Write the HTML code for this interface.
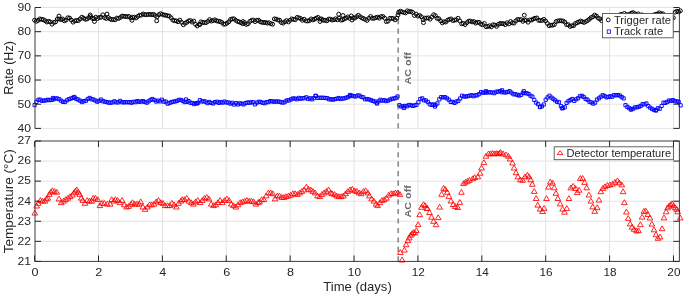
<!DOCTYPE html>
<html><head><meta charset="utf-8"><style>html,body{margin:0;padding:0;background:#fff;width:685px;height:296px;overflow:hidden}svg{display:block;will-change:transform}</style></head>
<body><svg width="685" height="296" viewBox="0 0 685 296"><path d="M98.49 7.50V128.40M98.49 141.00V261.42M162.38 7.50V128.40M162.38 141.00V261.42M226.26 7.50V128.40M226.26 141.00V261.42M290.15 7.50V128.40M290.15 141.00V261.42M354.04 7.50V128.40M354.04 141.00V261.42M417.93 7.50V128.40M417.93 141.00V261.42M481.82 7.50V128.40M481.82 141.00V261.42M545.70 7.50V128.40M545.70 141.00V261.42M609.59 7.50V128.40M609.59 141.00V261.42M673.48 7.50V128.40M673.48 141.00V261.42M35.00 128.40H679.40M35.00 104.22H679.40M35.00 80.04H679.40M35.00 55.86H679.40M35.00 31.68H679.40M35.00 7.50H679.40M35.00 241.35H679.40M35.00 221.28H679.40M35.00 201.21H679.40M35.00 181.14H679.40M35.00 161.07H679.40" stroke="#e3e3e3" stroke-width="1" fill="none"/><path d="M398.2 128.40V7.50" stroke="#8f8f8f" stroke-width="1.7" stroke-dasharray="5.1 4.37" fill="none"/><path d="M398.2 261.42V141.00" stroke="#8f8f8f" stroke-width="1.7" stroke-dasharray="5.1 4.37" fill="none"/><path d="M32.65 20.20a1.95 1.95 0 1 0 3.9 0a1.95 1.95 0 1 0 -3.9 0M34.40 21.31a1.95 1.95 0 1 0 3.9 0a1.95 1.95 0 1 0 -3.9 0M36.15 20.35a1.95 1.95 0 1 0 3.9 0a1.95 1.95 0 1 0 -3.9 0M37.90 18.91a1.95 1.95 0 1 0 3.9 0a1.95 1.95 0 1 0 -3.9 0M39.65 19.42a1.95 1.95 0 1 0 3.9 0a1.95 1.95 0 1 0 -3.9 0M41.40 19.63a1.95 1.95 0 1 0 3.9 0a1.95 1.95 0 1 0 -3.9 0M43.15 20.74a1.95 1.95 0 1 0 3.9 0a1.95 1.95 0 1 0 -3.9 0M44.90 21.99a1.95 1.95 0 1 0 3.9 0a1.95 1.95 0 1 0 -3.9 0M46.65 21.37a1.95 1.95 0 1 0 3.9 0a1.95 1.95 0 1 0 -3.9 0M48.40 21.88a1.95 1.95 0 1 0 3.9 0a1.95 1.95 0 1 0 -3.9 0M50.15 24.20a1.95 1.95 0 1 0 3.9 0a1.95 1.95 0 1 0 -3.9 0M51.90 22.38a1.95 1.95 0 1 0 3.9 0a1.95 1.95 0 1 0 -3.9 0M53.65 21.90a1.95 1.95 0 1 0 3.9 0a1.95 1.95 0 1 0 -3.9 0M55.40 19.04a1.95 1.95 0 1 0 3.9 0a1.95 1.95 0 1 0 -3.9 0M57.05 16.00a1.95 1.95 0 1 0 3.9 0a1.95 1.95 0 1 0 -3.9 0M57.15 19.00a1.95 1.95 0 1 0 3.9 0a1.95 1.95 0 1 0 -3.9 0M58.90 19.53a1.95 1.95 0 1 0 3.9 0a1.95 1.95 0 1 0 -3.9 0M60.65 19.00a1.95 1.95 0 1 0 3.9 0a1.95 1.95 0 1 0 -3.9 0M62.40 20.79a1.95 1.95 0 1 0 3.9 0a1.95 1.95 0 1 0 -3.9 0M64.15 20.08a1.95 1.95 0 1 0 3.9 0a1.95 1.95 0 1 0 -3.9 0M65.90 17.79a1.95 1.95 0 1 0 3.9 0a1.95 1.95 0 1 0 -3.9 0M67.65 18.08a1.95 1.95 0 1 0 3.9 0a1.95 1.95 0 1 0 -3.9 0M69.40 20.09a1.95 1.95 0 1 0 3.9 0a1.95 1.95 0 1 0 -3.9 0M71.15 22.17a1.95 1.95 0 1 0 3.9 0a1.95 1.95 0 1 0 -3.9 0M72.90 20.90a1.95 1.95 0 1 0 3.9 0a1.95 1.95 0 1 0 -3.9 0M74.65 20.42a1.95 1.95 0 1 0 3.9 0a1.95 1.95 0 1 0 -3.9 0M76.40 20.64a1.95 1.95 0 1 0 3.9 0a1.95 1.95 0 1 0 -3.9 0M78.15 18.92a1.95 1.95 0 1 0 3.9 0a1.95 1.95 0 1 0 -3.9 0M79.90 17.19a1.95 1.95 0 1 0 3.9 0a1.95 1.95 0 1 0 -3.9 0M81.65 18.28a1.95 1.95 0 1 0 3.9 0a1.95 1.95 0 1 0 -3.9 0M83.40 19.29a1.95 1.95 0 1 0 3.9 0a1.95 1.95 0 1 0 -3.9 0M85.15 19.00a1.95 1.95 0 1 0 3.9 0a1.95 1.95 0 1 0 -3.9 0M86.90 17.55a1.95 1.95 0 1 0 3.9 0a1.95 1.95 0 1 0 -3.9 0M88.25 15.00a1.95 1.95 0 1 0 3.9 0a1.95 1.95 0 1 0 -3.9 0M88.65 16.66a1.95 1.95 0 1 0 3.9 0a1.95 1.95 0 1 0 -3.9 0M90.40 18.41a1.95 1.95 0 1 0 3.9 0a1.95 1.95 0 1 0 -3.9 0M92.15 18.68a1.95 1.95 0 1 0 3.9 0a1.95 1.95 0 1 0 -3.9 0M92.55 21.50a1.95 1.95 0 1 0 3.9 0a1.95 1.95 0 1 0 -3.9 0M93.90 17.16a1.95 1.95 0 1 0 3.9 0a1.95 1.95 0 1 0 -3.9 0M95.65 18.48a1.95 1.95 0 1 0 3.9 0a1.95 1.95 0 1 0 -3.9 0M97.40 17.47a1.95 1.95 0 1 0 3.9 0a1.95 1.95 0 1 0 -3.9 0M99.15 17.18a1.95 1.95 0 1 0 3.9 0a1.95 1.95 0 1 0 -3.9 0M100.90 14.82a1.95 1.95 0 1 0 3.9 0a1.95 1.95 0 1 0 -3.9 0M102.65 17.71a1.95 1.95 0 1 0 3.9 0a1.95 1.95 0 1 0 -3.9 0M104.40 18.45a1.95 1.95 0 1 0 3.9 0a1.95 1.95 0 1 0 -3.9 0M105.05 14.00a1.95 1.95 0 1 0 3.9 0a1.95 1.95 0 1 0 -3.9 0M106.15 17.46a1.95 1.95 0 1 0 3.9 0a1.95 1.95 0 1 0 -3.9 0M107.90 18.81a1.95 1.95 0 1 0 3.9 0a1.95 1.95 0 1 0 -3.9 0M109.65 19.66a1.95 1.95 0 1 0 3.9 0a1.95 1.95 0 1 0 -3.9 0M111.40 19.42a1.95 1.95 0 1 0 3.9 0a1.95 1.95 0 1 0 -3.9 0M113.15 19.78a1.95 1.95 0 1 0 3.9 0a1.95 1.95 0 1 0 -3.9 0M114.90 18.05a1.95 1.95 0 1 0 3.9 0a1.95 1.95 0 1 0 -3.9 0M116.65 18.47a1.95 1.95 0 1 0 3.9 0a1.95 1.95 0 1 0 -3.9 0M118.40 17.48a1.95 1.95 0 1 0 3.9 0a1.95 1.95 0 1 0 -3.9 0M120.15 16.06a1.95 1.95 0 1 0 3.9 0a1.95 1.95 0 1 0 -3.9 0M121.90 16.27a1.95 1.95 0 1 0 3.9 0a1.95 1.95 0 1 0 -3.9 0M123.65 16.50a1.95 1.95 0 1 0 3.9 0a1.95 1.95 0 1 0 -3.9 0M125.40 16.70a1.95 1.95 0 1 0 3.9 0a1.95 1.95 0 1 0 -3.9 0M127.15 16.49a1.95 1.95 0 1 0 3.9 0a1.95 1.95 0 1 0 -3.9 0M128.90 18.03a1.95 1.95 0 1 0 3.9 0a1.95 1.95 0 1 0 -3.9 0M129.95 20.30a1.95 1.95 0 1 0 3.9 0a1.95 1.95 0 1 0 -3.9 0M130.65 17.20a1.95 1.95 0 1 0 3.9 0a1.95 1.95 0 1 0 -3.9 0M132.40 17.12a1.95 1.95 0 1 0 3.9 0a1.95 1.95 0 1 0 -3.9 0M134.15 17.91a1.95 1.95 0 1 0 3.9 0a1.95 1.95 0 1 0 -3.9 0M135.90 16.39a1.95 1.95 0 1 0 3.9 0a1.95 1.95 0 1 0 -3.9 0M137.65 15.23a1.95 1.95 0 1 0 3.9 0a1.95 1.95 0 1 0 -3.9 0M139.40 15.08a1.95 1.95 0 1 0 3.9 0a1.95 1.95 0 1 0 -3.9 0M141.15 13.95a1.95 1.95 0 1 0 3.9 0a1.95 1.95 0 1 0 -3.9 0M142.90 14.68a1.95 1.95 0 1 0 3.9 0a1.95 1.95 0 1 0 -3.9 0M144.65 14.67a1.95 1.95 0 1 0 3.9 0a1.95 1.95 0 1 0 -3.9 0M146.40 14.51a1.95 1.95 0 1 0 3.9 0a1.95 1.95 0 1 0 -3.9 0M148.15 14.37a1.95 1.95 0 1 0 3.9 0a1.95 1.95 0 1 0 -3.9 0M149.90 14.72a1.95 1.95 0 1 0 3.9 0a1.95 1.95 0 1 0 -3.9 0M151.65 14.31a1.95 1.95 0 1 0 3.9 0a1.95 1.95 0 1 0 -3.9 0M153.40 15.60a1.95 1.95 0 1 0 3.9 0a1.95 1.95 0 1 0 -3.9 0M154.75 20.80a1.95 1.95 0 1 0 3.9 0a1.95 1.95 0 1 0 -3.9 0M155.15 16.85a1.95 1.95 0 1 0 3.9 0a1.95 1.95 0 1 0 -3.9 0M156.90 14.70a1.95 1.95 0 1 0 3.9 0a1.95 1.95 0 1 0 -3.9 0M158.65 13.74a1.95 1.95 0 1 0 3.9 0a1.95 1.95 0 1 0 -3.9 0M160.40 14.37a1.95 1.95 0 1 0 3.9 0a1.95 1.95 0 1 0 -3.9 0M162.15 15.04a1.95 1.95 0 1 0 3.9 0a1.95 1.95 0 1 0 -3.9 0M163.90 15.23a1.95 1.95 0 1 0 3.9 0a1.95 1.95 0 1 0 -3.9 0M165.65 15.78a1.95 1.95 0 1 0 3.9 0a1.95 1.95 0 1 0 -3.9 0M167.40 16.10a1.95 1.95 0 1 0 3.9 0a1.95 1.95 0 1 0 -3.9 0M169.15 17.81a1.95 1.95 0 1 0 3.9 0a1.95 1.95 0 1 0 -3.9 0M170.90 20.13a1.95 1.95 0 1 0 3.9 0a1.95 1.95 0 1 0 -3.9 0M172.65 20.75a1.95 1.95 0 1 0 3.9 0a1.95 1.95 0 1 0 -3.9 0M174.40 20.90a1.95 1.95 0 1 0 3.9 0a1.95 1.95 0 1 0 -3.9 0M176.15 21.70a1.95 1.95 0 1 0 3.9 0a1.95 1.95 0 1 0 -3.9 0M177.90 20.13a1.95 1.95 0 1 0 3.9 0a1.95 1.95 0 1 0 -3.9 0M179.65 22.33a1.95 1.95 0 1 0 3.9 0a1.95 1.95 0 1 0 -3.9 0M181.40 24.71a1.95 1.95 0 1 0 3.9 0a1.95 1.95 0 1 0 -3.9 0M183.15 23.18a1.95 1.95 0 1 0 3.9 0a1.95 1.95 0 1 0 -3.9 0M184.90 22.29a1.95 1.95 0 1 0 3.9 0a1.95 1.95 0 1 0 -3.9 0M186.65 20.92a1.95 1.95 0 1 0 3.9 0a1.95 1.95 0 1 0 -3.9 0M188.40 20.60a1.95 1.95 0 1 0 3.9 0a1.95 1.95 0 1 0 -3.9 0M190.15 22.10a1.95 1.95 0 1 0 3.9 0a1.95 1.95 0 1 0 -3.9 0M191.90 21.10a1.95 1.95 0 1 0 3.9 0a1.95 1.95 0 1 0 -3.9 0M193.65 24.45a1.95 1.95 0 1 0 3.9 0a1.95 1.95 0 1 0 -3.9 0M195.40 25.99a1.95 1.95 0 1 0 3.9 0a1.95 1.95 0 1 0 -3.9 0M197.15 24.45a1.95 1.95 0 1 0 3.9 0a1.95 1.95 0 1 0 -3.9 0M198.05 24.50a1.95 1.95 0 1 0 3.9 0a1.95 1.95 0 1 0 -3.9 0M198.90 21.85a1.95 1.95 0 1 0 3.9 0a1.95 1.95 0 1 0 -3.9 0M200.65 22.38a1.95 1.95 0 1 0 3.9 0a1.95 1.95 0 1 0 -3.9 0M202.40 22.67a1.95 1.95 0 1 0 3.9 0a1.95 1.95 0 1 0 -3.9 0M204.15 22.60a1.95 1.95 0 1 0 3.9 0a1.95 1.95 0 1 0 -3.9 0M205.90 21.39a1.95 1.95 0 1 0 3.9 0a1.95 1.95 0 1 0 -3.9 0M207.65 19.59a1.95 1.95 0 1 0 3.9 0a1.95 1.95 0 1 0 -3.9 0M209.40 21.09a1.95 1.95 0 1 0 3.9 0a1.95 1.95 0 1 0 -3.9 0M211.15 20.55a1.95 1.95 0 1 0 3.9 0a1.95 1.95 0 1 0 -3.9 0M212.90 19.83a1.95 1.95 0 1 0 3.9 0a1.95 1.95 0 1 0 -3.9 0M214.65 20.80a1.95 1.95 0 1 0 3.9 0a1.95 1.95 0 1 0 -3.9 0M216.40 21.29a1.95 1.95 0 1 0 3.9 0a1.95 1.95 0 1 0 -3.9 0M218.15 21.52a1.95 1.95 0 1 0 3.9 0a1.95 1.95 0 1 0 -3.9 0M219.90 22.38a1.95 1.95 0 1 0 3.9 0a1.95 1.95 0 1 0 -3.9 0M221.65 24.19a1.95 1.95 0 1 0 3.9 0a1.95 1.95 0 1 0 -3.9 0M223.40 24.03a1.95 1.95 0 1 0 3.9 0a1.95 1.95 0 1 0 -3.9 0M225.15 23.13a1.95 1.95 0 1 0 3.9 0a1.95 1.95 0 1 0 -3.9 0M226.90 21.79a1.95 1.95 0 1 0 3.9 0a1.95 1.95 0 1 0 -3.9 0M228.65 19.54a1.95 1.95 0 1 0 3.9 0a1.95 1.95 0 1 0 -3.9 0M230.40 18.86a1.95 1.95 0 1 0 3.9 0a1.95 1.95 0 1 0 -3.9 0M232.15 18.85a1.95 1.95 0 1 0 3.9 0a1.95 1.95 0 1 0 -3.9 0M233.90 20.31a1.95 1.95 0 1 0 3.9 0a1.95 1.95 0 1 0 -3.9 0M235.65 21.45a1.95 1.95 0 1 0 3.9 0a1.95 1.95 0 1 0 -3.9 0M237.40 21.92a1.95 1.95 0 1 0 3.9 0a1.95 1.95 0 1 0 -3.9 0M239.15 22.79a1.95 1.95 0 1 0 3.9 0a1.95 1.95 0 1 0 -3.9 0M240.90 23.72a1.95 1.95 0 1 0 3.9 0a1.95 1.95 0 1 0 -3.9 0M241.05 21.50a1.95 1.95 0 1 0 3.9 0a1.95 1.95 0 1 0 -3.9 0M242.65 22.65a1.95 1.95 0 1 0 3.9 0a1.95 1.95 0 1 0 -3.9 0M244.40 24.40a1.95 1.95 0 1 0 3.9 0a1.95 1.95 0 1 0 -3.9 0M246.15 23.73a1.95 1.95 0 1 0 3.9 0a1.95 1.95 0 1 0 -3.9 0M247.90 21.38a1.95 1.95 0 1 0 3.9 0a1.95 1.95 0 1 0 -3.9 0M249.65 20.34a1.95 1.95 0 1 0 3.9 0a1.95 1.95 0 1 0 -3.9 0M251.40 20.02a1.95 1.95 0 1 0 3.9 0a1.95 1.95 0 1 0 -3.9 0M253.15 21.60a1.95 1.95 0 1 0 3.9 0a1.95 1.95 0 1 0 -3.9 0M254.90 20.29a1.95 1.95 0 1 0 3.9 0a1.95 1.95 0 1 0 -3.9 0M256.65 20.22a1.95 1.95 0 1 0 3.9 0a1.95 1.95 0 1 0 -3.9 0M258.40 21.79a1.95 1.95 0 1 0 3.9 0a1.95 1.95 0 1 0 -3.9 0M260.15 22.32a1.95 1.95 0 1 0 3.9 0a1.95 1.95 0 1 0 -3.9 0M261.90 22.55a1.95 1.95 0 1 0 3.9 0a1.95 1.95 0 1 0 -3.9 0M263.65 22.50a1.95 1.95 0 1 0 3.9 0a1.95 1.95 0 1 0 -3.9 0M265.40 23.14a1.95 1.95 0 1 0 3.9 0a1.95 1.95 0 1 0 -3.9 0M267.15 22.70a1.95 1.95 0 1 0 3.9 0a1.95 1.95 0 1 0 -3.9 0M268.90 23.68a1.95 1.95 0 1 0 3.9 0a1.95 1.95 0 1 0 -3.9 0M270.65 24.22a1.95 1.95 0 1 0 3.9 0a1.95 1.95 0 1 0 -3.9 0M272.40 18.90a1.95 1.95 0 1 0 3.9 0a1.95 1.95 0 1 0 -3.9 0M274.15 19.09a1.95 1.95 0 1 0 3.9 0a1.95 1.95 0 1 0 -3.9 0M275.90 19.99a1.95 1.95 0 1 0 3.9 0a1.95 1.95 0 1 0 -3.9 0M277.65 20.22a1.95 1.95 0 1 0 3.9 0a1.95 1.95 0 1 0 -3.9 0M279.40 22.56a1.95 1.95 0 1 0 3.9 0a1.95 1.95 0 1 0 -3.9 0M281.15 23.15a1.95 1.95 0 1 0 3.9 0a1.95 1.95 0 1 0 -3.9 0M282.90 21.70a1.95 1.95 0 1 0 3.9 0a1.95 1.95 0 1 0 -3.9 0M284.65 20.62a1.95 1.95 0 1 0 3.9 0a1.95 1.95 0 1 0 -3.9 0M286.40 21.91a1.95 1.95 0 1 0 3.9 0a1.95 1.95 0 1 0 -3.9 0M288.15 20.27a1.95 1.95 0 1 0 3.9 0a1.95 1.95 0 1 0 -3.9 0M289.90 18.86a1.95 1.95 0 1 0 3.9 0a1.95 1.95 0 1 0 -3.9 0M291.65 19.41a1.95 1.95 0 1 0 3.9 0a1.95 1.95 0 1 0 -3.9 0M293.40 19.66a1.95 1.95 0 1 0 3.9 0a1.95 1.95 0 1 0 -3.9 0M295.15 17.43a1.95 1.95 0 1 0 3.9 0a1.95 1.95 0 1 0 -3.9 0M296.90 17.83a1.95 1.95 0 1 0 3.9 0a1.95 1.95 0 1 0 -3.9 0M298.65 18.53a1.95 1.95 0 1 0 3.9 0a1.95 1.95 0 1 0 -3.9 0M300.40 20.27a1.95 1.95 0 1 0 3.9 0a1.95 1.95 0 1 0 -3.9 0M302.15 19.20a1.95 1.95 0 1 0 3.9 0a1.95 1.95 0 1 0 -3.9 0M303.90 20.84a1.95 1.95 0 1 0 3.9 0a1.95 1.95 0 1 0 -3.9 0M305.65 21.05a1.95 1.95 0 1 0 3.9 0a1.95 1.95 0 1 0 -3.9 0M307.40 20.63a1.95 1.95 0 1 0 3.9 0a1.95 1.95 0 1 0 -3.9 0M309.15 18.92a1.95 1.95 0 1 0 3.9 0a1.95 1.95 0 1 0 -3.9 0M310.90 19.92a1.95 1.95 0 1 0 3.9 0a1.95 1.95 0 1 0 -3.9 0M312.65 19.11a1.95 1.95 0 1 0 3.9 0a1.95 1.95 0 1 0 -3.9 0M314.40 18.12a1.95 1.95 0 1 0 3.9 0a1.95 1.95 0 1 0 -3.9 0M316.15 17.40a1.95 1.95 0 1 0 3.9 0a1.95 1.95 0 1 0 -3.9 0M317.90 19.02a1.95 1.95 0 1 0 3.9 0a1.95 1.95 0 1 0 -3.9 0M318.05 21.50a1.95 1.95 0 1 0 3.9 0a1.95 1.95 0 1 0 -3.9 0M319.65 18.94a1.95 1.95 0 1 0 3.9 0a1.95 1.95 0 1 0 -3.9 0M321.40 20.24a1.95 1.95 0 1 0 3.9 0a1.95 1.95 0 1 0 -3.9 0M323.15 20.31a1.95 1.95 0 1 0 3.9 0a1.95 1.95 0 1 0 -3.9 0M324.90 20.80a1.95 1.95 0 1 0 3.9 0a1.95 1.95 0 1 0 -3.9 0M326.65 19.09a1.95 1.95 0 1 0 3.9 0a1.95 1.95 0 1 0 -3.9 0M328.40 19.12a1.95 1.95 0 1 0 3.9 0a1.95 1.95 0 1 0 -3.9 0M330.15 20.06a1.95 1.95 0 1 0 3.9 0a1.95 1.95 0 1 0 -3.9 0M331.90 19.78a1.95 1.95 0 1 0 3.9 0a1.95 1.95 0 1 0 -3.9 0M333.65 18.77a1.95 1.95 0 1 0 3.9 0a1.95 1.95 0 1 0 -3.9 0M335.40 19.82a1.95 1.95 0 1 0 3.9 0a1.95 1.95 0 1 0 -3.9 0M336.75 14.20a1.95 1.95 0 1 0 3.9 0a1.95 1.95 0 1 0 -3.9 0M337.15 18.20a1.95 1.95 0 1 0 3.9 0a1.95 1.95 0 1 0 -3.9 0M338.90 20.12a1.95 1.95 0 1 0 3.9 0a1.95 1.95 0 1 0 -3.9 0M340.65 19.86a1.95 1.95 0 1 0 3.9 0a1.95 1.95 0 1 0 -3.9 0M341.05 15.50a1.95 1.95 0 1 0 3.9 0a1.95 1.95 0 1 0 -3.9 0M342.40 18.76a1.95 1.95 0 1 0 3.9 0a1.95 1.95 0 1 0 -3.9 0M344.15 18.08a1.95 1.95 0 1 0 3.9 0a1.95 1.95 0 1 0 -3.9 0M345.90 16.90a1.95 1.95 0 1 0 3.9 0a1.95 1.95 0 1 0 -3.9 0M347.65 18.37a1.95 1.95 0 1 0 3.9 0a1.95 1.95 0 1 0 -3.9 0M349.40 15.94a1.95 1.95 0 1 0 3.9 0a1.95 1.95 0 1 0 -3.9 0M350.05 20.00a1.95 1.95 0 1 0 3.9 0a1.95 1.95 0 1 0 -3.9 0M351.15 17.90a1.95 1.95 0 1 0 3.9 0a1.95 1.95 0 1 0 -3.9 0M352.90 18.05a1.95 1.95 0 1 0 3.9 0a1.95 1.95 0 1 0 -3.9 0M354.65 16.65a1.95 1.95 0 1 0 3.9 0a1.95 1.95 0 1 0 -3.9 0M356.40 15.30a1.95 1.95 0 1 0 3.9 0a1.95 1.95 0 1 0 -3.9 0M358.15 16.71a1.95 1.95 0 1 0 3.9 0a1.95 1.95 0 1 0 -3.9 0M359.90 17.89a1.95 1.95 0 1 0 3.9 0a1.95 1.95 0 1 0 -3.9 0M361.65 18.63a1.95 1.95 0 1 0 3.9 0a1.95 1.95 0 1 0 -3.9 0M363.40 19.47a1.95 1.95 0 1 0 3.9 0a1.95 1.95 0 1 0 -3.9 0M365.15 20.42a1.95 1.95 0 1 0 3.9 0a1.95 1.95 0 1 0 -3.9 0M366.90 18.31a1.95 1.95 0 1 0 3.9 0a1.95 1.95 0 1 0 -3.9 0M368.65 16.53a1.95 1.95 0 1 0 3.9 0a1.95 1.95 0 1 0 -3.9 0M370.40 18.30a1.95 1.95 0 1 0 3.9 0a1.95 1.95 0 1 0 -3.9 0M372.15 18.30a1.95 1.95 0 1 0 3.9 0a1.95 1.95 0 1 0 -3.9 0M373.90 17.62a1.95 1.95 0 1 0 3.9 0a1.95 1.95 0 1 0 -3.9 0M375.65 17.11a1.95 1.95 0 1 0 3.9 0a1.95 1.95 0 1 0 -3.9 0M377.40 18.13a1.95 1.95 0 1 0 3.9 0a1.95 1.95 0 1 0 -3.9 0M379.15 16.61a1.95 1.95 0 1 0 3.9 0a1.95 1.95 0 1 0 -3.9 0M380.90 16.52a1.95 1.95 0 1 0 3.9 0a1.95 1.95 0 1 0 -3.9 0M382.65 18.09a1.95 1.95 0 1 0 3.9 0a1.95 1.95 0 1 0 -3.9 0M384.40 21.64a1.95 1.95 0 1 0 3.9 0a1.95 1.95 0 1 0 -3.9 0M386.15 21.12a1.95 1.95 0 1 0 3.9 0a1.95 1.95 0 1 0 -3.9 0M387.90 18.32a1.95 1.95 0 1 0 3.9 0a1.95 1.95 0 1 0 -3.9 0M389.65 18.40a1.95 1.95 0 1 0 3.9 0a1.95 1.95 0 1 0 -3.9 0M391.40 18.48a1.95 1.95 0 1 0 3.9 0a1.95 1.95 0 1 0 -3.9 0M393.15 19.89a1.95 1.95 0 1 0 3.9 0a1.95 1.95 0 1 0 -3.9 0M394.90 18.13a1.95 1.95 0 1 0 3.9 0a1.95 1.95 0 1 0 -3.9 0M396.05 15.00a1.95 1.95 0 1 0 3.9 0a1.95 1.95 0 1 0 -3.9 0M396.65 12.40a1.95 1.95 0 1 0 3.9 0a1.95 1.95 0 1 0 -3.9 0M398.40 11.21a1.95 1.95 0 1 0 3.9 0a1.95 1.95 0 1 0 -3.9 0M400.15 11.83a1.95 1.95 0 1 0 3.9 0a1.95 1.95 0 1 0 -3.9 0M401.90 12.58a1.95 1.95 0 1 0 3.9 0a1.95 1.95 0 1 0 -3.9 0M403.65 12.93a1.95 1.95 0 1 0 3.9 0a1.95 1.95 0 1 0 -3.9 0M405.40 10.80a1.95 1.95 0 1 0 3.9 0a1.95 1.95 0 1 0 -3.9 0M407.15 11.60a1.95 1.95 0 1 0 3.9 0a1.95 1.95 0 1 0 -3.9 0M408.90 11.54a1.95 1.95 0 1 0 3.9 0a1.95 1.95 0 1 0 -3.9 0M410.65 12.32a1.95 1.95 0 1 0 3.9 0a1.95 1.95 0 1 0 -3.9 0M412.40 15.51a1.95 1.95 0 1 0 3.9 0a1.95 1.95 0 1 0 -3.9 0M414.15 14.12a1.95 1.95 0 1 0 3.9 0a1.95 1.95 0 1 0 -3.9 0M415.90 16.12a1.95 1.95 0 1 0 3.9 0a1.95 1.95 0 1 0 -3.9 0M417.65 15.54a1.95 1.95 0 1 0 3.9 0a1.95 1.95 0 1 0 -3.9 0M419.40 16.78a1.95 1.95 0 1 0 3.9 0a1.95 1.95 0 1 0 -3.9 0M421.15 19.67a1.95 1.95 0 1 0 3.9 0a1.95 1.95 0 1 0 -3.9 0M421.55 22.60a1.95 1.95 0 1 0 3.9 0a1.95 1.95 0 1 0 -3.9 0M422.90 18.09a1.95 1.95 0 1 0 3.9 0a1.95 1.95 0 1 0 -3.9 0M424.65 18.13a1.95 1.95 0 1 0 3.9 0a1.95 1.95 0 1 0 -3.9 0M426.40 17.86a1.95 1.95 0 1 0 3.9 0a1.95 1.95 0 1 0 -3.9 0M428.15 19.17a1.95 1.95 0 1 0 3.9 0a1.95 1.95 0 1 0 -3.9 0M429.90 16.97a1.95 1.95 0 1 0 3.9 0a1.95 1.95 0 1 0 -3.9 0M431.65 14.72a1.95 1.95 0 1 0 3.9 0a1.95 1.95 0 1 0 -3.9 0M433.40 15.67a1.95 1.95 0 1 0 3.9 0a1.95 1.95 0 1 0 -3.9 0M435.15 18.32a1.95 1.95 0 1 0 3.9 0a1.95 1.95 0 1 0 -3.9 0M436.90 18.70a1.95 1.95 0 1 0 3.9 0a1.95 1.95 0 1 0 -3.9 0M438.65 20.82a1.95 1.95 0 1 0 3.9 0a1.95 1.95 0 1 0 -3.9 0M440.40 22.88a1.95 1.95 0 1 0 3.9 0a1.95 1.95 0 1 0 -3.9 0M442.15 21.71a1.95 1.95 0 1 0 3.9 0a1.95 1.95 0 1 0 -3.9 0M443.90 22.02a1.95 1.95 0 1 0 3.9 0a1.95 1.95 0 1 0 -3.9 0M445.65 20.21a1.95 1.95 0 1 0 3.9 0a1.95 1.95 0 1 0 -3.9 0M447.40 19.38a1.95 1.95 0 1 0 3.9 0a1.95 1.95 0 1 0 -3.9 0M449.15 18.92a1.95 1.95 0 1 0 3.9 0a1.95 1.95 0 1 0 -3.9 0M450.90 20.59a1.95 1.95 0 1 0 3.9 0a1.95 1.95 0 1 0 -3.9 0M452.65 20.07a1.95 1.95 0 1 0 3.9 0a1.95 1.95 0 1 0 -3.9 0M454.40 19.84a1.95 1.95 0 1 0 3.9 0a1.95 1.95 0 1 0 -3.9 0M456.15 18.28a1.95 1.95 0 1 0 3.9 0a1.95 1.95 0 1 0 -3.9 0M457.90 20.94a1.95 1.95 0 1 0 3.9 0a1.95 1.95 0 1 0 -3.9 0M459.65 23.78a1.95 1.95 0 1 0 3.9 0a1.95 1.95 0 1 0 -3.9 0M461.40 23.43a1.95 1.95 0 1 0 3.9 0a1.95 1.95 0 1 0 -3.9 0M463.15 24.58a1.95 1.95 0 1 0 3.9 0a1.95 1.95 0 1 0 -3.9 0M464.90 22.64a1.95 1.95 0 1 0 3.9 0a1.95 1.95 0 1 0 -3.9 0M466.65 21.22a1.95 1.95 0 1 0 3.9 0a1.95 1.95 0 1 0 -3.9 0M468.40 20.99a1.95 1.95 0 1 0 3.9 0a1.95 1.95 0 1 0 -3.9 0M470.15 21.89a1.95 1.95 0 1 0 3.9 0a1.95 1.95 0 1 0 -3.9 0M471.90 21.53a1.95 1.95 0 1 0 3.9 0a1.95 1.95 0 1 0 -3.9 0M473.65 23.11a1.95 1.95 0 1 0 3.9 0a1.95 1.95 0 1 0 -3.9 0M475.40 22.39a1.95 1.95 0 1 0 3.9 0a1.95 1.95 0 1 0 -3.9 0M477.15 22.31a1.95 1.95 0 1 0 3.9 0a1.95 1.95 0 1 0 -3.9 0M478.90 24.09a1.95 1.95 0 1 0 3.9 0a1.95 1.95 0 1 0 -3.9 0M480.65 24.76a1.95 1.95 0 1 0 3.9 0a1.95 1.95 0 1 0 -3.9 0M482.40 23.48a1.95 1.95 0 1 0 3.9 0a1.95 1.95 0 1 0 -3.9 0M484.15 26.64a1.95 1.95 0 1 0 3.9 0a1.95 1.95 0 1 0 -3.9 0M485.90 26.51a1.95 1.95 0 1 0 3.9 0a1.95 1.95 0 1 0 -3.9 0M487.65 25.76a1.95 1.95 0 1 0 3.9 0a1.95 1.95 0 1 0 -3.9 0M489.40 26.89a1.95 1.95 0 1 0 3.9 0a1.95 1.95 0 1 0 -3.9 0M491.15 24.75a1.95 1.95 0 1 0 3.9 0a1.95 1.95 0 1 0 -3.9 0M492.90 25.10a1.95 1.95 0 1 0 3.9 0a1.95 1.95 0 1 0 -3.9 0M494.65 26.37a1.95 1.95 0 1 0 3.9 0a1.95 1.95 0 1 0 -3.9 0M496.40 24.36a1.95 1.95 0 1 0 3.9 0a1.95 1.95 0 1 0 -3.9 0M498.15 23.44a1.95 1.95 0 1 0 3.9 0a1.95 1.95 0 1 0 -3.9 0M499.90 23.57a1.95 1.95 0 1 0 3.9 0a1.95 1.95 0 1 0 -3.9 0M501.65 23.67a1.95 1.95 0 1 0 3.9 0a1.95 1.95 0 1 0 -3.9 0M503.40 24.65a1.95 1.95 0 1 0 3.9 0a1.95 1.95 0 1 0 -3.9 0M505.15 22.77a1.95 1.95 0 1 0 3.9 0a1.95 1.95 0 1 0 -3.9 0M506.90 23.92a1.95 1.95 0 1 0 3.9 0a1.95 1.95 0 1 0 -3.9 0M508.65 21.55a1.95 1.95 0 1 0 3.9 0a1.95 1.95 0 1 0 -3.9 0M510.40 22.90a1.95 1.95 0 1 0 3.9 0a1.95 1.95 0 1 0 -3.9 0M512.15 23.09a1.95 1.95 0 1 0 3.9 0a1.95 1.95 0 1 0 -3.9 0M513.90 20.86a1.95 1.95 0 1 0 3.9 0a1.95 1.95 0 1 0 -3.9 0M515.65 19.39a1.95 1.95 0 1 0 3.9 0a1.95 1.95 0 1 0 -3.9 0M517.40 19.68a1.95 1.95 0 1 0 3.9 0a1.95 1.95 0 1 0 -3.9 0M519.15 19.65a1.95 1.95 0 1 0 3.9 0a1.95 1.95 0 1 0 -3.9 0M520.90 21.38a1.95 1.95 0 1 0 3.9 0a1.95 1.95 0 1 0 -3.9 0M522.35 15.20a1.95 1.95 0 1 0 3.9 0a1.95 1.95 0 1 0 -3.9 0M522.65 20.09a1.95 1.95 0 1 0 3.9 0a1.95 1.95 0 1 0 -3.9 0M524.40 20.26a1.95 1.95 0 1 0 3.9 0a1.95 1.95 0 1 0 -3.9 0M526.15 22.20a1.95 1.95 0 1 0 3.9 0a1.95 1.95 0 1 0 -3.9 0M527.90 19.92a1.95 1.95 0 1 0 3.9 0a1.95 1.95 0 1 0 -3.9 0M529.65 20.05a1.95 1.95 0 1 0 3.9 0a1.95 1.95 0 1 0 -3.9 0M531.40 18.95a1.95 1.95 0 1 0 3.9 0a1.95 1.95 0 1 0 -3.9 0M533.15 18.25a1.95 1.95 0 1 0 3.9 0a1.95 1.95 0 1 0 -3.9 0M534.90 17.95a1.95 1.95 0 1 0 3.9 0a1.95 1.95 0 1 0 -3.9 0M536.65 20.33a1.95 1.95 0 1 0 3.9 0a1.95 1.95 0 1 0 -3.9 0M538.40 20.47a1.95 1.95 0 1 0 3.9 0a1.95 1.95 0 1 0 -3.9 0M540.15 20.47a1.95 1.95 0 1 0 3.9 0a1.95 1.95 0 1 0 -3.9 0M541.90 19.34a1.95 1.95 0 1 0 3.9 0a1.95 1.95 0 1 0 -3.9 0M543.65 21.00a1.95 1.95 0 1 0 3.9 0a1.95 1.95 0 1 0 -3.9 0M545.40 23.43a1.95 1.95 0 1 0 3.9 0a1.95 1.95 0 1 0 -3.9 0M547.15 25.75a1.95 1.95 0 1 0 3.9 0a1.95 1.95 0 1 0 -3.9 0M548.90 25.13a1.95 1.95 0 1 0 3.9 0a1.95 1.95 0 1 0 -3.9 0M550.65 25.17a1.95 1.95 0 1 0 3.9 0a1.95 1.95 0 1 0 -3.9 0M552.40 24.62a1.95 1.95 0 1 0 3.9 0a1.95 1.95 0 1 0 -3.9 0M554.15 21.52a1.95 1.95 0 1 0 3.9 0a1.95 1.95 0 1 0 -3.9 0M555.90 21.01a1.95 1.95 0 1 0 3.9 0a1.95 1.95 0 1 0 -3.9 0M557.65 20.71a1.95 1.95 0 1 0 3.9 0a1.95 1.95 0 1 0 -3.9 0M559.40 20.84a1.95 1.95 0 1 0 3.9 0a1.95 1.95 0 1 0 -3.9 0M561.15 21.00a1.95 1.95 0 1 0 3.9 0a1.95 1.95 0 1 0 -3.9 0M562.90 22.09a1.95 1.95 0 1 0 3.9 0a1.95 1.95 0 1 0 -3.9 0M564.65 24.72a1.95 1.95 0 1 0 3.9 0a1.95 1.95 0 1 0 -3.9 0M566.40 24.65a1.95 1.95 0 1 0 3.9 0a1.95 1.95 0 1 0 -3.9 0M568.15 26.43a1.95 1.95 0 1 0 3.9 0a1.95 1.95 0 1 0 -3.9 0M569.90 25.78a1.95 1.95 0 1 0 3.9 0a1.95 1.95 0 1 0 -3.9 0M571.65 25.65a1.95 1.95 0 1 0 3.9 0a1.95 1.95 0 1 0 -3.9 0M573.40 23.58a1.95 1.95 0 1 0 3.9 0a1.95 1.95 0 1 0 -3.9 0M575.15 22.71a1.95 1.95 0 1 0 3.9 0a1.95 1.95 0 1 0 -3.9 0M576.90 21.94a1.95 1.95 0 1 0 3.9 0a1.95 1.95 0 1 0 -3.9 0M578.65 21.04a1.95 1.95 0 1 0 3.9 0a1.95 1.95 0 1 0 -3.9 0M580.40 21.78a1.95 1.95 0 1 0 3.9 0a1.95 1.95 0 1 0 -3.9 0M582.15 22.45a1.95 1.95 0 1 0 3.9 0a1.95 1.95 0 1 0 -3.9 0M583.90 21.53a1.95 1.95 0 1 0 3.9 0a1.95 1.95 0 1 0 -3.9 0M585.65 20.53a1.95 1.95 0 1 0 3.9 0a1.95 1.95 0 1 0 -3.9 0M587.40 19.23a1.95 1.95 0 1 0 3.9 0a1.95 1.95 0 1 0 -3.9 0M589.15 17.64a1.95 1.95 0 1 0 3.9 0a1.95 1.95 0 1 0 -3.9 0M590.90 16.73a1.95 1.95 0 1 0 3.9 0a1.95 1.95 0 1 0 -3.9 0M592.65 15.05a1.95 1.95 0 1 0 3.9 0a1.95 1.95 0 1 0 -3.9 0M594.40 16.06a1.95 1.95 0 1 0 3.9 0a1.95 1.95 0 1 0 -3.9 0M596.15 18.05a1.95 1.95 0 1 0 3.9 0a1.95 1.95 0 1 0 -3.9 0M597.90 18.85a1.95 1.95 0 1 0 3.9 0a1.95 1.95 0 1 0 -3.9 0M599.65 20.70a1.95 1.95 0 1 0 3.9 0a1.95 1.95 0 1 0 -3.9 0M601.40 18.69a1.95 1.95 0 1 0 3.9 0a1.95 1.95 0 1 0 -3.9 0M603.15 17.92a1.95 1.95 0 1 0 3.9 0a1.95 1.95 0 1 0 -3.9 0M604.90 19.07a1.95 1.95 0 1 0 3.9 0a1.95 1.95 0 1 0 -3.9 0M606.65 17.96a1.95 1.95 0 1 0 3.9 0a1.95 1.95 0 1 0 -3.9 0M608.40 18.97a1.95 1.95 0 1 0 3.9 0a1.95 1.95 0 1 0 -3.9 0M610.15 17.95a1.95 1.95 0 1 0 3.9 0a1.95 1.95 0 1 0 -3.9 0M611.90 18.38a1.95 1.95 0 1 0 3.9 0a1.95 1.95 0 1 0 -3.9 0M613.65 16.11a1.95 1.95 0 1 0 3.9 0a1.95 1.95 0 1 0 -3.9 0M615.40 16.48a1.95 1.95 0 1 0 3.9 0a1.95 1.95 0 1 0 -3.9 0M617.15 16.70a1.95 1.95 0 1 0 3.9 0a1.95 1.95 0 1 0 -3.9 0M618.90 14.31a1.95 1.95 0 1 0 3.9 0a1.95 1.95 0 1 0 -3.9 0M620.65 15.90a1.95 1.95 0 1 0 3.9 0a1.95 1.95 0 1 0 -3.9 0M622.40 13.42a1.95 1.95 0 1 0 3.9 0a1.95 1.95 0 1 0 -3.9 0M624.15 14.62a1.95 1.95 0 1 0 3.9 0a1.95 1.95 0 1 0 -3.9 0M625.90 14.84a1.95 1.95 0 1 0 3.9 0a1.95 1.95 0 1 0 -3.9 0M627.65 14.40a1.95 1.95 0 1 0 3.9 0a1.95 1.95 0 1 0 -3.9 0M629.40 13.15a1.95 1.95 0 1 0 3.9 0a1.95 1.95 0 1 0 -3.9 0M631.15 12.66a1.95 1.95 0 1 0 3.9 0a1.95 1.95 0 1 0 -3.9 0M632.90 13.75a1.95 1.95 0 1 0 3.9 0a1.95 1.95 0 1 0 -3.9 0M634.65 14.83a1.95 1.95 0 1 0 3.9 0a1.95 1.95 0 1 0 -3.9 0M636.40 13.86a1.95 1.95 0 1 0 3.9 0a1.95 1.95 0 1 0 -3.9 0M638.15 16.10a1.95 1.95 0 1 0 3.9 0a1.95 1.95 0 1 0 -3.9 0M639.90 14.86a1.95 1.95 0 1 0 3.9 0a1.95 1.95 0 1 0 -3.9 0M641.65 17.31a1.95 1.95 0 1 0 3.9 0a1.95 1.95 0 1 0 -3.9 0M643.40 15.63a1.95 1.95 0 1 0 3.9 0a1.95 1.95 0 1 0 -3.9 0M645.15 16.40a1.95 1.95 0 1 0 3.9 0a1.95 1.95 0 1 0 -3.9 0M646.90 17.65a1.95 1.95 0 1 0 3.9 0a1.95 1.95 0 1 0 -3.9 0M648.65 16.88a1.95 1.95 0 1 0 3.9 0a1.95 1.95 0 1 0 -3.9 0M650.40 16.05a1.95 1.95 0 1 0 3.9 0a1.95 1.95 0 1 0 -3.9 0M652.15 14.84a1.95 1.95 0 1 0 3.9 0a1.95 1.95 0 1 0 -3.9 0M653.90 14.34a1.95 1.95 0 1 0 3.9 0a1.95 1.95 0 1 0 -3.9 0M655.65 13.93a1.95 1.95 0 1 0 3.9 0a1.95 1.95 0 1 0 -3.9 0M657.40 12.87a1.95 1.95 0 1 0 3.9 0a1.95 1.95 0 1 0 -3.9 0M659.15 13.85a1.95 1.95 0 1 0 3.9 0a1.95 1.95 0 1 0 -3.9 0M660.90 13.82a1.95 1.95 0 1 0 3.9 0a1.95 1.95 0 1 0 -3.9 0M662.65 16.19a1.95 1.95 0 1 0 3.9 0a1.95 1.95 0 1 0 -3.9 0M664.40 17.06a1.95 1.95 0 1 0 3.9 0a1.95 1.95 0 1 0 -3.9 0M666.15 16.38a1.95 1.95 0 1 0 3.9 0a1.95 1.95 0 1 0 -3.9 0M667.90 15.91a1.95 1.95 0 1 0 3.9 0a1.95 1.95 0 1 0 -3.9 0M669.65 18.16a1.95 1.95 0 1 0 3.9 0a1.95 1.95 0 1 0 -3.9 0M671.40 17.77a1.95 1.95 0 1 0 3.9 0a1.95 1.95 0 1 0 -3.9 0M673.15 12.16a1.95 1.95 0 1 0 3.9 0a1.95 1.95 0 1 0 -3.9 0M674.90 11.19a1.95 1.95 0 1 0 3.9 0a1.95 1.95 0 1 0 -3.9 0M676.65 11.83a1.95 1.95 0 1 0 3.9 0a1.95 1.95 0 1 0 -3.9 0M678.40 10.79a1.95 1.95 0 1 0 3.9 0a1.95 1.95 0 1 0 -3.9 0" fill="none" stroke="#000" stroke-width="1.0"/><path d="M33.00 103.45h3.2v3.2h-3.2zM34.90 100.18h3.2v3.2h-3.2zM36.80 98.21h3.2v3.2h-3.2zM38.70 98.05h3.2v3.2h-3.2zM40.60 99.27h3.2v3.2h-3.2zM42.50 98.97h3.2v3.2h-3.2zM44.40 98.81h3.2v3.2h-3.2zM46.30 98.15h3.2v3.2h-3.2zM48.20 98.56h3.2v3.2h-3.2zM50.10 98.21h3.2v3.2h-3.2zM51.40 96.40h3.2v3.2h-3.2zM52.00 97.81h3.2v3.2h-3.2zM53.90 96.75h3.2v3.2h-3.2zM55.80 96.94h3.2v3.2h-3.2zM57.70 97.58h3.2v3.2h-3.2zM59.60 99.09h3.2v3.2h-3.2zM61.50 100.30h3.2v3.2h-3.2zM63.40 100.41h3.2v3.2h-3.2zM65.30 98.73h3.2v3.2h-3.2zM67.20 97.60h3.2v3.2h-3.2zM69.10 97.02h3.2v3.2h-3.2zM71.00 96.33h3.2v3.2h-3.2zM72.60 95.40h3.2v3.2h-3.2zM72.90 95.97h3.2v3.2h-3.2zM74.80 97.42h3.2v3.2h-3.2zM76.70 98.01h3.2v3.2h-3.2zM78.60 99.14h3.2v3.2h-3.2zM80.50 100.46h3.2v3.2h-3.2zM82.40 99.50h3.2v3.2h-3.2zM84.30 99.13h3.2v3.2h-3.2zM86.20 97.38h3.2v3.2h-3.2zM88.10 96.35h3.2v3.2h-3.2zM90.00 97.66h3.2v3.2h-3.2zM91.90 97.94h3.2v3.2h-3.2zM93.80 98.93h3.2v3.2h-3.2zM95.70 100.08h3.2v3.2h-3.2zM97.60 99.20h3.2v3.2h-3.2zM99.50 98.01h3.2v3.2h-3.2zM101.40 99.65h3.2v3.2h-3.2zM103.30 100.08h3.2v3.2h-3.2zM105.20 100.45h3.2v3.2h-3.2zM107.10 101.06h3.2v3.2h-3.2zM109.00 101.04h3.2v3.2h-3.2zM110.90 100.79h3.2v3.2h-3.2zM112.80 99.70h3.2v3.2h-3.2zM114.70 100.77h3.2v3.2h-3.2zM116.60 100.73h3.2v3.2h-3.2zM118.50 99.29h3.2v3.2h-3.2zM120.40 100.58h3.2v3.2h-3.2zM122.30 100.81h3.2v3.2h-3.2zM124.20 100.53h3.2v3.2h-3.2zM126.10 100.65h3.2v3.2h-3.2zM128.00 100.56h3.2v3.2h-3.2zM129.90 101.14h3.2v3.2h-3.2zM131.80 100.16h3.2v3.2h-3.2zM133.70 100.55h3.2v3.2h-3.2zM135.60 99.47h3.2v3.2h-3.2zM137.50 100.20h3.2v3.2h-3.2zM139.40 100.00h3.2v3.2h-3.2zM141.30 99.51h3.2v3.2h-3.2zM143.20 100.31h3.2v3.2h-3.2zM145.10 101.06h3.2v3.2h-3.2zM147.00 99.75h3.2v3.2h-3.2zM148.90 98.38h3.2v3.2h-3.2zM150.80 97.41h3.2v3.2h-3.2zM152.70 98.42h3.2v3.2h-3.2zM154.60 99.91h3.2v3.2h-3.2zM156.50 99.00h3.2v3.2h-3.2zM158.40 99.81h3.2v3.2h-3.2zM160.30 98.14h3.2v3.2h-3.2zM162.20 100.08h3.2v3.2h-3.2zM164.10 99.93h3.2v3.2h-3.2zM166.00 102.03h3.2v3.2h-3.2zM167.90 101.38h3.2v3.2h-3.2zM169.80 100.53h3.2v3.2h-3.2zM171.70 100.06h3.2v3.2h-3.2zM173.60 99.83h3.2v3.2h-3.2zM175.50 99.26h3.2v3.2h-3.2zM177.40 98.31h3.2v3.2h-3.2zM179.30 98.28h3.2v3.2h-3.2zM181.20 99.28h3.2v3.2h-3.2zM183.10 100.49h3.2v3.2h-3.2zM184.40 97.90h3.2v3.2h-3.2zM185.00 100.25h3.2v3.2h-3.2zM186.90 99.50h3.2v3.2h-3.2zM188.80 101.07h3.2v3.2h-3.2zM190.70 101.42h3.2v3.2h-3.2zM192.60 102.52h3.2v3.2h-3.2zM194.50 101.55h3.2v3.2h-3.2zM195.40 101.90h3.2v3.2h-3.2zM196.40 101.17h3.2v3.2h-3.2zM198.30 98.55h3.2v3.2h-3.2zM200.20 99.89h3.2v3.2h-3.2zM202.10 99.66h3.2v3.2h-3.2zM204.00 100.04h3.2v3.2h-3.2zM205.90 101.49h3.2v3.2h-3.2zM207.80 100.37h3.2v3.2h-3.2zM209.70 101.37h3.2v3.2h-3.2zM211.60 101.84h3.2v3.2h-3.2zM213.50 100.49h3.2v3.2h-3.2zM215.40 100.16h3.2v3.2h-3.2zM217.30 101.29h3.2v3.2h-3.2zM219.20 100.46h3.2v3.2h-3.2zM221.10 100.99h3.2v3.2h-3.2zM223.00 99.97h3.2v3.2h-3.2zM224.90 100.89h3.2v3.2h-3.2zM226.80 100.86h3.2v3.2h-3.2zM228.70 101.99h3.2v3.2h-3.2zM230.60 101.16h3.2v3.2h-3.2zM232.50 102.94h3.2v3.2h-3.2zM234.40 101.43h3.2v3.2h-3.2zM236.30 102.86h3.2v3.2h-3.2zM238.20 101.73h3.2v3.2h-3.2zM240.10 101.99h3.2v3.2h-3.2zM242.00 102.83h3.2v3.2h-3.2zM243.90 101.48h3.2v3.2h-3.2zM245.80 100.88h3.2v3.2h-3.2zM247.70 101.15h3.2v3.2h-3.2zM249.60 100.73h3.2v3.2h-3.2zM251.50 100.61h3.2v3.2h-3.2zM253.40 102.80h3.2v3.2h-3.2zM255.30 101.06h3.2v3.2h-3.2zM257.20 100.21h3.2v3.2h-3.2zM259.10 100.40h3.2v3.2h-3.2zM261.00 101.15h3.2v3.2h-3.2zM262.90 101.63h3.2v3.2h-3.2zM264.80 100.60h3.2v3.2h-3.2zM266.70 100.51h3.2v3.2h-3.2zM268.60 99.47h3.2v3.2h-3.2zM270.50 99.77h3.2v3.2h-3.2zM272.40 100.11h3.2v3.2h-3.2zM274.30 99.84h3.2v3.2h-3.2zM276.20 99.97h3.2v3.2h-3.2zM278.10 100.16h3.2v3.2h-3.2zM280.00 100.80h3.2v3.2h-3.2zM281.90 100.97h3.2v3.2h-3.2zM283.80 99.86h3.2v3.2h-3.2zM285.70 98.73h3.2v3.2h-3.2zM287.60 98.83h3.2v3.2h-3.2zM289.50 97.71h3.2v3.2h-3.2zM291.40 96.84h3.2v3.2h-3.2zM293.30 96.98h3.2v3.2h-3.2zM295.20 97.67h3.2v3.2h-3.2zM297.10 96.33h3.2v3.2h-3.2zM299.00 97.15h3.2v3.2h-3.2zM300.90 96.63h3.2v3.2h-3.2zM302.80 96.62h3.2v3.2h-3.2zM304.70 95.72h3.2v3.2h-3.2zM306.60 97.46h3.2v3.2h-3.2zM308.50 96.65h3.2v3.2h-3.2zM310.40 97.72h3.2v3.2h-3.2zM312.30 96.52h3.2v3.2h-3.2zM314.00 94.20h3.2v3.2h-3.2zM314.20 94.41h3.2v3.2h-3.2zM316.10 96.16h3.2v3.2h-3.2zM318.00 96.19h3.2v3.2h-3.2zM319.90 96.20h3.2v3.2h-3.2zM321.80 96.16h3.2v3.2h-3.2zM323.70 96.43h3.2v3.2h-3.2zM325.60 96.54h3.2v3.2h-3.2zM327.50 97.74h3.2v3.2h-3.2zM329.40 97.67h3.2v3.2h-3.2zM331.30 98.07h3.2v3.2h-3.2zM333.20 97.53h3.2v3.2h-3.2zM335.10 97.19h3.2v3.2h-3.2zM337.00 96.42h3.2v3.2h-3.2zM338.90 97.41h3.2v3.2h-3.2zM340.80 96.83h3.2v3.2h-3.2zM342.70 96.82h3.2v3.2h-3.2zM344.60 96.12h3.2v3.2h-3.2zM346.50 95.49h3.2v3.2h-3.2zM348.40 94.51h3.2v3.2h-3.2zM348.40 93.40h3.2v3.2h-3.2zM350.30 94.00h3.2v3.2h-3.2zM352.20 94.60h3.2v3.2h-3.2zM354.10 94.85h3.2v3.2h-3.2zM356.00 93.91h3.2v3.2h-3.2zM357.90 93.96h3.2v3.2h-3.2zM359.80 95.34h3.2v3.2h-3.2zM361.70 95.75h3.2v3.2h-3.2zM363.60 97.68h3.2v3.2h-3.2zM365.50 97.45h3.2v3.2h-3.2zM367.40 97.84h3.2v3.2h-3.2zM369.30 98.60h3.2v3.2h-3.2zM371.20 99.29h3.2v3.2h-3.2zM373.10 99.85h3.2v3.2h-3.2zM375.00 100.98h3.2v3.2h-3.2zM375.40 101.90h3.2v3.2h-3.2zM376.90 99.79h3.2v3.2h-3.2zM378.80 98.23h3.2v3.2h-3.2zM380.70 99.04h3.2v3.2h-3.2zM382.60 98.57h3.2v3.2h-3.2zM384.50 99.51h3.2v3.2h-3.2zM386.40 98.95h3.2v3.2h-3.2zM388.30 98.00h3.2v3.2h-3.2zM390.20 97.17h3.2v3.2h-3.2zM392.10 96.99h3.2v3.2h-3.2zM394.00 96.46h3.2v3.2h-3.2zM395.90 94.86h3.2v3.2h-3.2zM397.80 103.57h3.2v3.2h-3.2zM399.70 104.89h3.2v3.2h-3.2zM401.60 104.84h3.2v3.2h-3.2zM402.40 106.40h3.2v3.2h-3.2zM403.50 104.28h3.2v3.2h-3.2zM405.40 104.69h3.2v3.2h-3.2zM407.30 103.36h3.2v3.2h-3.2zM409.20 103.63h3.2v3.2h-3.2zM411.10 104.36h3.2v3.2h-3.2zM413.00 103.80h3.2v3.2h-3.2zM414.90 103.22h3.2v3.2h-3.2zM416.80 100.72h3.2v3.2h-3.2zM418.70 97.44h3.2v3.2h-3.2zM420.60 96.75h3.2v3.2h-3.2zM422.50 98.72h3.2v3.2h-3.2zM424.40 98.93h3.2v3.2h-3.2zM426.30 100.52h3.2v3.2h-3.2zM428.20 102.64h3.2v3.2h-3.2zM430.10 103.31h3.2v3.2h-3.2zM432.00 102.85h3.2v3.2h-3.2zM433.40 104.90h3.2v3.2h-3.2zM433.90 103.33h3.2v3.2h-3.2zM435.80 101.82h3.2v3.2h-3.2zM437.70 97.70h3.2v3.2h-3.2zM439.60 95.55h3.2v3.2h-3.2zM441.50 95.75h3.2v3.2h-3.2zM443.40 95.54h3.2v3.2h-3.2zM445.30 96.78h3.2v3.2h-3.2zM447.20 98.10h3.2v3.2h-3.2zM449.10 100.39h3.2v3.2h-3.2zM451.00 100.29h3.2v3.2h-3.2zM452.90 101.34h3.2v3.2h-3.2zM454.80 99.97h3.2v3.2h-3.2zM456.70 99.26h3.2v3.2h-3.2zM458.60 96.89h3.2v3.2h-3.2zM460.50 94.14h3.2v3.2h-3.2zM462.40 94.94h3.2v3.2h-3.2zM464.30 94.94h3.2v3.2h-3.2zM466.20 94.48h3.2v3.2h-3.2zM468.10 94.07h3.2v3.2h-3.2zM470.00 93.61h3.2v3.2h-3.2zM471.90 94.63h3.2v3.2h-3.2zM473.80 93.71h3.2v3.2h-3.2zM475.70 93.68h3.2v3.2h-3.2zM477.60 92.51h3.2v3.2h-3.2zM479.50 90.52h3.2v3.2h-3.2zM481.40 91.13h3.2v3.2h-3.2zM483.30 91.04h3.2v3.2h-3.2zM484.40 89.60h3.2v3.2h-3.2zM485.20 90.78h3.2v3.2h-3.2zM487.10 90.73h3.2v3.2h-3.2zM489.00 90.74h3.2v3.2h-3.2zM490.90 90.92h3.2v3.2h-3.2zM492.80 91.54h3.2v3.2h-3.2zM494.70 90.12h3.2v3.2h-3.2zM496.60 90.09h3.2v3.2h-3.2zM498.50 89.51h3.2v3.2h-3.2zM500.40 90.63h3.2v3.2h-3.2zM500.40 88.70h3.2v3.2h-3.2zM502.30 90.70h3.2v3.2h-3.2zM504.20 90.87h3.2v3.2h-3.2zM506.10 90.35h3.2v3.2h-3.2zM508.00 89.62h3.2v3.2h-3.2zM509.90 91.04h3.2v3.2h-3.2zM511.80 92.63h3.2v3.2h-3.2zM513.70 92.61h3.2v3.2h-3.2zM515.60 93.22h3.2v3.2h-3.2zM517.50 93.97h3.2v3.2h-3.2zM519.40 93.25h3.2v3.2h-3.2zM521.30 91.23h3.2v3.2h-3.2zM522.20 89.60h3.2v3.2h-3.2zM523.20 91.63h3.2v3.2h-3.2zM525.10 91.57h3.2v3.2h-3.2zM527.00 92.41h3.2v3.2h-3.2zM528.90 94.14h3.2v3.2h-3.2zM530.80 94.97h3.2v3.2h-3.2zM532.70 98.36h3.2v3.2h-3.2zM534.60 101.02h3.2v3.2h-3.2zM536.50 102.59h3.2v3.2h-3.2zM538.40 105.33h3.2v3.2h-3.2zM538.40 105.40h3.2v3.2h-3.2zM540.30 104.73h3.2v3.2h-3.2zM542.20 102.87h3.2v3.2h-3.2zM544.10 98.13h3.2v3.2h-3.2zM546.00 95.83h3.2v3.2h-3.2zM547.90 94.13h3.2v3.2h-3.2zM549.80 96.00h3.2v3.2h-3.2zM551.70 97.24h3.2v3.2h-3.2zM553.60 98.77h3.2v3.2h-3.2zM555.50 100.22h3.2v3.2h-3.2zM557.40 100.63h3.2v3.2h-3.2zM559.30 104.55h3.2v3.2h-3.2zM560.40 106.70h3.2v3.2h-3.2zM561.20 106.46h3.2v3.2h-3.2zM563.10 105.69h3.2v3.2h-3.2zM565.00 101.27h3.2v3.2h-3.2zM566.90 99.60h3.2v3.2h-3.2zM568.80 98.43h3.2v3.2h-3.2zM570.70 97.38h3.2v3.2h-3.2zM572.60 99.25h3.2v3.2h-3.2zM574.50 97.76h3.2v3.2h-3.2zM576.40 96.67h3.2v3.2h-3.2zM578.30 94.63h3.2v3.2h-3.2zM580.20 94.20h3.2v3.2h-3.2zM582.10 95.34h3.2v3.2h-3.2zM584.00 97.29h3.2v3.2h-3.2zM585.90 98.09h3.2v3.2h-3.2zM587.80 100.12h3.2v3.2h-3.2zM589.70 100.82h3.2v3.2h-3.2zM591.60 102.03h3.2v3.2h-3.2zM593.50 101.01h3.2v3.2h-3.2zM595.40 98.02h3.2v3.2h-3.2zM597.30 96.72h3.2v3.2h-3.2zM599.20 95.10h3.2v3.2h-3.2zM601.10 93.65h3.2v3.2h-3.2zM603.00 94.41h3.2v3.2h-3.2zM604.90 95.74h3.2v3.2h-3.2zM606.80 95.35h3.2v3.2h-3.2zM608.70 94.63h3.2v3.2h-3.2zM610.60 95.12h3.2v3.2h-3.2zM612.50 93.48h3.2v3.2h-3.2zM614.40 93.73h3.2v3.2h-3.2zM616.30 93.44h3.2v3.2h-3.2zM618.20 93.98h3.2v3.2h-3.2zM620.10 95.48h3.2v3.2h-3.2zM622.00 96.78h3.2v3.2h-3.2zM623.90 103.59h3.2v3.2h-3.2zM625.80 105.27h3.2v3.2h-3.2zM627.70 106.70h3.2v3.2h-3.2zM629.40 107.90h3.2v3.2h-3.2zM629.60 107.76h3.2v3.2h-3.2zM631.50 107.14h3.2v3.2h-3.2zM633.40 105.82h3.2v3.2h-3.2zM635.30 105.69h3.2v3.2h-3.2zM637.20 105.18h3.2v3.2h-3.2zM639.10 104.27h3.2v3.2h-3.2zM641.00 102.60h3.2v3.2h-3.2zM642.90 102.72h3.2v3.2h-3.2zM644.80 101.89h3.2v3.2h-3.2zM646.70 104.51h3.2v3.2h-3.2zM648.60 106.08h3.2v3.2h-3.2zM650.50 107.30h3.2v3.2h-3.2zM652.40 108.40h3.2v3.2h-3.2zM654.30 108.49h3.2v3.2h-3.2zM654.40 108.90h3.2v3.2h-3.2zM656.20 106.61h3.2v3.2h-3.2zM658.10 107.18h3.2v3.2h-3.2zM660.00 104.41h3.2v3.2h-3.2zM661.90 101.10h3.2v3.2h-3.2zM663.80 101.31h3.2v3.2h-3.2zM665.70 100.28h3.2v3.2h-3.2zM667.60 98.91h3.2v3.2h-3.2zM669.50 99.35h3.2v3.2h-3.2zM671.40 98.49h3.2v3.2h-3.2zM673.30 99.69h3.2v3.2h-3.2zM675.20 99.80h3.2v3.2h-3.2zM677.10 100.31h3.2v3.2h-3.2zM679.00 103.72h3.2v3.2h-3.2z" fill="none" stroke="#0000ff" stroke-width="0.95"/><path d="M34.80 210.15L37.65 215.00H31.95ZM36.70 203.15L39.55 208.00H33.85ZM38.20 200.45L41.05 205.30H35.35ZM40.40 197.55L43.25 202.40H37.55ZM42.60 198.25L45.45 203.10H39.75ZM44.90 198.25L47.75 203.10H42.05ZM46.40 196.05L49.25 200.90H43.55ZM47.80 195.25L50.65 200.10H44.95ZM49.30 191.55L52.15 196.40H46.45ZM50.80 189.35L53.65 194.20H47.95ZM52.30 187.85L55.15 192.70H49.45ZM54.50 188.55L57.35 193.40H51.65ZM56.80 189.35L59.65 194.20H53.95ZM59.00 196.05L61.85 200.90H56.15ZM61.20 199.75L64.05 204.60H58.35ZM63.50 198.25L66.35 203.10H60.65ZM65.70 196.75L68.55 201.60H62.85ZM67.90 195.25L70.75 200.10H65.05ZM70.10 193.75L72.95 198.60H67.25ZM72.40 192.25L75.25 197.10H69.55ZM73.90 190.05L76.75 194.90H71.05ZM75.40 188.25L78.25 193.10H72.55ZM76.80 187.05L79.65 191.90H73.95ZM78.30 189.35L81.15 194.20H75.45ZM79.80 191.55L82.65 196.40H76.95ZM81.30 195.25L84.15 200.10H78.45ZM82.80 197.55L85.65 202.40H79.95ZM85.00 200.45L87.85 205.30H82.15ZM87.20 197.55L90.05 202.40H84.35ZM89.50 198.25L92.35 203.10H86.65ZM91.70 198.25L94.55 203.10H88.85ZM93.20 195.25L96.05 200.10H90.35ZM95.40 195.25L98.25 200.10H92.55ZM97.70 196.75L100.55 201.60H94.85ZM99.90 202.75L102.75 207.60H97.05ZM102.10 200.45L104.95 205.30H99.25ZM104.30 200.45L107.15 205.30H101.45ZM107.30 201.25L110.15 206.10H104.45ZM110.20 201.25L113.05 206.10H107.35ZM111.70 196.75L114.55 201.60H108.85ZM113.90 198.25L116.75 203.10H111.05ZM115.40 196.75L118.25 201.60H112.55ZM117.60 197.55L120.45 202.40H114.75ZM119.90 199.75L122.75 204.60H117.05ZM122.10 197.55L124.95 202.40H119.25ZM124.30 201.95L127.15 206.80H121.45ZM126.60 204.15L129.45 209.00H123.75ZM128.80 203.45L131.65 208.30H125.95ZM131.00 201.25L133.85 206.10H128.15ZM132.50 199.75L135.35 204.60H129.65ZM134.70 201.25L137.55 206.10H131.85ZM137.00 201.25L139.85 206.10H134.15ZM139.20 201.25L142.05 206.10H136.35ZM140.70 198.95L143.55 203.80H137.85ZM142.90 204.15L145.75 209.00H140.05ZM145.10 206.45L147.95 211.30H142.25ZM147.40 204.15L150.25 209.00H144.55ZM149.60 201.95L152.45 206.80H146.75ZM151.80 201.95L154.65 206.80H148.95ZM154.10 201.25L156.95 206.10H151.25ZM156.30 198.95L159.15 203.80H153.45ZM158.50 197.55L161.35 202.40H155.65ZM160.80 199.75L163.65 204.60H157.95ZM163.00 200.45L165.85 205.30H160.15ZM165.20 202.75L168.05 207.60H162.35ZM167.50 202.75L170.35 207.60H164.65ZM169.70 202.75L172.55 207.60H166.85ZM171.90 200.45L174.75 205.30H169.05ZM174.10 201.95L176.95 206.80H171.25ZM176.40 204.15L179.25 209.00H173.55ZM178.60 200.45L181.45 205.30H175.75ZM180.80 198.25L183.65 203.10H177.95ZM182.20 196.75L185.05 201.60H179.35ZM184.50 196.75L187.35 201.60H181.65ZM186.70 195.25L189.55 200.10H183.85ZM188.90 198.25L191.75 203.10H186.05ZM191.20 199.75L194.05 204.60H188.35ZM193.40 201.25L196.25 206.10H190.55ZM195.60 198.95L198.45 203.80H192.75ZM197.80 197.55L200.65 202.40H194.95ZM200.10 199.75L202.95 204.60H197.25ZM202.30 197.55L205.15 202.40H199.45ZM204.50 195.25L207.35 200.10H201.65ZM206.80 194.55L209.65 199.40H203.95ZM209.00 196.05L211.85 200.90H206.15ZM211.20 201.25L214.05 206.10H208.35ZM213.50 202.75L216.35 207.60H210.65ZM215.70 201.95L218.55 206.80H212.85ZM217.90 199.75L220.75 204.60H215.05ZM220.10 197.55L222.95 202.40H217.25ZM222.40 199.75L225.25 204.60H219.55ZM224.60 197.55L227.45 202.40H221.75ZM226.80 196.05L229.65 200.90H223.95ZM229.10 197.55L231.95 202.40H226.25ZM231.30 201.25L234.15 206.10H228.45ZM233.50 202.75L236.35 207.60H230.65ZM235.80 204.15L238.65 209.00H232.95ZM238.00 201.95L240.85 206.80H235.15ZM240.20 199.75L243.05 204.60H237.35ZM242.50 198.95L245.35 203.80H239.65ZM244.70 198.25L247.55 203.10H241.85ZM246.90 197.55L249.75 202.40H244.05ZM249.10 198.25L251.95 203.10H246.25ZM251.40 198.25L254.25 203.10H248.55ZM253.60 198.95L256.45 203.80H250.75ZM255.80 201.25L258.65 206.10H252.95ZM258.10 199.75L260.95 204.60H255.25ZM259.50 198.95L262.35 203.80H256.65ZM261.70 196.75L264.55 201.60H258.85ZM263.90 196.75L266.75 201.60H261.05ZM266.20 193.05L269.05 197.90H263.35ZM268.40 190.05L271.25 194.90H265.55ZM270.60 190.05L273.45 194.90H267.75ZM272.80 190.85L275.65 195.70H269.95ZM275.10 196.05L277.95 200.90H272.25ZM277.30 193.05L280.15 197.90H274.45ZM279.50 193.05L282.35 197.90H276.65ZM281.80 194.55L284.65 199.40H278.95ZM284.00 194.55L286.85 199.40H281.15ZM286.20 193.75L289.05 198.60H283.35ZM288.50 193.05L291.35 197.90H285.65ZM290.70 192.25L293.55 197.10H287.85ZM292.90 190.85L295.75 195.70H290.05ZM295.10 190.85L297.95 195.70H292.25ZM297.40 191.55L300.25 196.40H294.55ZM299.60 190.05L302.45 194.90H296.75ZM301.80 188.55L304.65 193.40H298.95ZM304.10 187.05L306.95 191.90H301.25ZM306.30 184.15L309.15 189.00H303.45ZM308.50 186.35L311.35 191.20H305.65ZM310.80 187.05L313.65 191.90H307.95ZM313.00 188.55L315.85 193.40H310.15ZM315.20 190.05L318.05 194.90H312.35ZM317.50 193.05L320.35 197.90H314.65ZM319.70 193.75L322.55 198.60H316.85ZM321.90 191.55L324.75 196.40H319.05ZM324.10 190.05L326.95 194.90H321.25ZM326.40 188.55L329.25 193.40H323.55ZM328.60 187.05L331.45 191.90H325.75ZM330.80 190.05L333.65 194.90H327.95ZM332.20 190.85L335.05 195.70H329.35ZM334.50 191.55L337.35 196.40H331.65ZM336.70 193.05L339.55 197.90H333.85ZM338.90 193.75L341.75 198.60H336.05ZM341.20 193.75L344.05 198.60H338.35ZM343.40 193.05L346.25 197.90H340.55ZM345.60 190.85L348.45 195.70H342.75ZM347.80 188.55L350.65 193.40H344.95ZM350.10 187.05L352.95 191.90H347.25ZM352.30 186.35L355.15 191.20H349.45ZM354.50 187.85L357.35 192.70H351.65ZM356.80 188.55L359.65 193.40H353.95ZM359.00 190.05L361.85 194.90H356.15ZM361.20 190.85L364.05 195.70H358.35ZM363.50 188.55L366.35 193.40H360.65ZM365.70 187.85L368.55 192.70H362.85ZM367.90 190.05L370.75 194.90H365.05ZM369.40 193.05L372.25 197.90H366.55ZM371.60 196.05L374.45 200.90H368.75ZM373.90 198.25L376.75 203.10H371.05ZM376.10 201.25L378.95 206.10H373.25ZM377.60 202.75L380.45 207.60H374.75ZM379.80 199.75L382.65 204.60H376.95ZM382.00 197.55L384.85 202.40H379.15ZM384.30 196.75L387.15 201.60H381.45ZM386.50 195.25L389.35 200.10H383.65ZM388.70 192.25L391.55 197.10H385.85ZM391.00 190.85L393.85 195.70H388.15ZM393.20 190.85L396.05 195.70H390.35ZM395.40 190.05L398.25 194.90H392.55ZM397.70 190.05L400.55 194.90H394.85ZM399.90 191.55L402.75 196.40H397.05ZM400.30 249.65L403.15 254.50H397.45ZM402.10 257.15L404.95 262.00H399.25ZM404.40 247.25L407.25 252.10H401.55ZM406.10 241.85L408.95 246.70H403.25ZM407.90 237.75L410.75 242.60H405.05ZM409.20 235.05L412.05 239.90H406.35ZM410.60 232.35L413.45 237.20H407.75ZM412.00 231.05L414.85 235.90H409.15ZM413.30 229.65L416.15 234.50H410.45ZM414.90 230.05L417.75 234.90H412.05ZM416.30 227.65L419.15 232.50H413.45ZM418.10 221.75L420.95 226.60H415.25ZM419.70 211.85L422.55 216.70H416.85ZM421.50 204.45L424.35 209.30H418.65ZM423.50 201.75L426.35 206.60H420.65ZM425.10 202.75L427.95 207.60H422.25ZM426.90 205.45L429.75 210.30H424.05ZM427.40 205.65L430.25 210.50H424.55ZM429.50 209.65L432.35 214.50H426.65ZM431.50 214.35L434.35 219.20H428.65ZM433.50 218.45L436.35 223.30H430.65ZM436.10 221.85L438.95 226.70H433.25ZM438.20 214.75L441.05 219.60H435.35ZM439.60 204.25L442.45 209.10H436.75ZM441.60 191.45L444.45 196.30H438.75ZM443.60 185.45L446.45 190.30H440.75ZM445.20 186.45L448.05 191.30H442.35ZM447.30 189.45L450.15 194.30H444.45ZM448.90 193.55L451.75 198.40H446.05ZM450.90 198.15L453.75 203.00H448.05ZM453.30 201.65L456.15 206.50H450.45ZM455.40 203.65L458.25 208.50H452.55ZM457.80 204.65L460.65 209.50H454.95ZM459.80 199.55L462.65 204.40H456.95ZM461.40 189.45L464.25 194.30H458.55ZM463.50 180.75L466.35 185.60H460.65ZM465.50 179.35L468.35 184.20H462.65ZM467.50 178.35L470.35 183.20H464.65ZM469.50 177.35L472.35 182.20H466.65ZM472.60 175.85L475.45 180.70H469.75ZM474.60 174.65L477.45 179.50H471.75ZM477.80 173.95L480.65 178.80H474.95ZM480.10 170.35L482.95 175.20H477.25ZM481.50 165.15L484.35 170.00H478.65ZM483.90 159.75L486.75 164.60H481.05ZM486.00 153.35L488.85 158.20H483.15ZM488.60 150.95L491.45 155.80H485.75ZM490.50 150.95L493.35 155.80H487.65ZM492.50 150.45L495.35 155.30H489.65ZM494.30 150.95L497.15 155.80H491.45ZM496.20 150.65L499.05 155.50H493.35ZM497.80 150.95L500.65 155.80H494.95ZM499.50 150.45L502.35 155.30H496.65ZM500.60 149.55L503.45 154.40H497.75ZM503.00 150.95L505.85 155.80H500.15ZM506.10 151.95L508.95 156.80H503.25ZM508.40 153.35L511.25 158.20H505.55ZM510.10 156.15L512.95 161.00H507.25ZM512.50 160.15L515.35 165.00H509.65ZM514.10 165.15L516.95 170.00H511.25ZM516.00 169.85L518.85 174.70H513.15ZM517.90 173.95L520.75 178.80H515.05ZM520.30 176.95L523.15 181.80H517.45ZM522.60 177.45L525.45 182.30H519.75ZM525.00 173.95L527.85 178.80H522.15ZM527.40 172.25L530.25 177.10H524.55ZM529.00 173.95L531.85 178.80H526.15ZM530.70 176.95L533.55 181.80H527.85ZM532.30 181.45L535.15 186.30H529.45ZM534.20 188.55L537.05 193.40H531.35ZM536.10 195.65L538.95 200.50H533.25ZM537.70 202.25L540.55 207.10H534.85ZM540.10 206.25L542.95 211.10H537.25ZM542.50 208.65L545.35 213.50H539.65ZM544.10 205.55L546.95 210.40H541.25ZM546.50 195.65L549.35 200.50H543.65ZM548.40 184.25L551.25 189.10H545.55ZM550.30 179.05L553.15 183.90H547.45ZM552.60 180.25L555.45 185.10H549.75ZM554.30 184.95L557.15 189.80H551.45ZM555.90 190.45L558.75 195.30H553.05ZM557.80 195.65L560.65 200.50H554.95ZM560.20 201.05L563.05 205.90H557.35ZM562.60 206.25L565.45 211.10H559.75ZM564.50 209.35L567.35 214.20H561.65ZM566.80 205.55L569.65 210.40H563.95ZM568.90 195.65L571.75 200.50H566.05ZM570.80 184.95L573.65 189.80H567.95ZM573.20 183.35L576.05 188.20H570.35ZM575.60 185.65L578.45 190.50H572.75ZM577.20 189.75L580.05 194.60H574.35ZM579.10 187.35L581.95 192.20H576.25ZM580.30 175.55L583.15 180.40H577.45ZM582.70 175.55L585.55 180.40H579.85ZM584.60 179.55L587.45 184.40H581.75ZM586.70 184.95L589.55 189.80H583.85ZM588.90 192.15L591.75 197.00H586.05ZM590.90 198.25L593.75 203.10H588.05ZM592.70 204.05L595.55 208.90H589.85ZM594.70 208.45L597.55 213.30H591.85ZM597.20 204.85L600.05 209.70H594.35ZM599.00 197.25L601.85 202.10H596.15ZM600.80 188.85L603.65 193.70H597.95ZM602.80 185.55L605.65 190.40H599.95ZM604.90 183.85L607.75 188.70H602.05ZM607.40 182.55L610.25 187.40H604.55ZM609.90 182.05L612.75 186.90H607.05ZM612.50 181.25L615.35 186.10H609.65ZM615.00 179.45L617.85 184.30H612.15ZM617.50 177.95L620.35 182.80H614.65ZM619.30 180.05L622.15 184.90H616.45ZM621.80 182.05L624.65 186.90H618.95ZM623.10 188.85L625.95 193.70H620.25ZM624.40 199.75L627.25 204.60H621.55ZM626.40 209.15L629.25 214.00H623.55ZM628.20 215.55L631.05 220.40H625.35ZM630.20 221.05L633.05 225.90H627.35ZM632.00 224.35L634.85 229.20H629.15ZM634.10 226.45L636.95 231.30H631.25ZM636.50 227.95L639.35 232.80H633.65ZM638.50 227.95L641.35 232.80H635.65ZM640.40 221.85L643.25 226.70H637.55ZM642.10 214.25L644.95 219.10H639.25ZM643.90 208.45L646.75 213.30H641.05ZM645.80 208.25L648.65 213.10H642.95ZM647.90 211.65L650.75 216.50H645.05ZM649.90 215.15L652.75 220.00H647.05ZM651.90 221.25L654.75 226.10H649.05ZM654.00 226.95L656.85 231.80H651.15ZM656.00 231.95L658.85 236.80H653.15ZM658.00 235.45L660.85 240.30H655.15ZM660.00 234.05L662.85 238.90H657.15ZM662.10 225.85L664.95 230.70H659.25ZM664.00 215.05L666.85 219.90H661.15ZM666.10 208.95L668.95 213.80H663.25ZM667.60 204.95L670.45 209.80H664.75ZM669.10 203.35L671.95 208.20H666.25ZM670.60 201.85L673.45 206.70H667.75ZM672.10 200.85L674.95 205.70H669.25ZM673.70 202.85L676.55 207.70H670.85ZM675.20 204.95L678.05 209.80H672.35ZM676.70 206.45L679.55 211.30H673.85ZM677.70 208.95L680.55 213.80H674.85ZM680.20 215.05L683.05 219.90H677.35Z" fill="none" stroke="#ff0000" stroke-width="0.85" stroke-linejoin="miter"/><path d="M35.0 7.50V128.40M679.4 7.50V128.40M35.0 141.00V261.42H679.4V141.00Z" stroke="#262626" stroke-width="0.9" fill="none"/><path d="M35.0 128.40h6.0M679.4 128.40h-6.0M35.0 104.22h6.0M679.4 104.22h-6.0M35.0 80.04h6.0M679.4 80.04h-6.0M35.0 55.86h6.0M679.4 55.86h-6.0M35.0 31.68h6.0M679.4 31.68h-6.0M35.0 7.50h6.0M679.4 7.50h-6.0M35.0 261.42h6.0M679.4 261.42h-6.0M35.0 241.35h6.0M679.4 241.35h-6.0M35.0 221.28h6.0M679.4 221.28h-6.0M35.0 201.21h6.0M679.4 201.21h-6.0M35.0 181.14h6.0M679.4 181.14h-6.0M35.0 161.07h6.0M679.4 161.07h-6.0M35.0 141.00h6.0M679.4 141.00h-6.0M34.60 261.42v-6.0M34.60 141.00v6.0M98.49 261.42v-6.0M98.49 141.00v6.0M162.38 261.42v-6.0M162.38 141.00v6.0M226.26 261.42v-6.0M226.26 141.00v6.0M290.15 261.42v-6.0M290.15 141.00v6.0M354.04 261.42v-6.0M354.04 141.00v6.0M417.93 261.42v-6.0M417.93 141.00v6.0M481.82 261.42v-6.0M481.82 141.00v6.0M545.70 261.42v-6.0M545.70 141.00v6.0M609.59 261.42v-6.0M609.59 141.00v6.0M673.48 261.42v-6.0M673.48 141.00v6.0" stroke="#262626" stroke-width="1" fill="none"/><g style='font-family:"Liberation Sans",sans-serif' font-size="11.5" fill="#262626"><text x="31.1" y="131.70" text-anchor="end" textLength="13.5" lengthAdjust="spacingAndGlyphs">40</text><text x="31.1" y="107.52" text-anchor="end" textLength="13.5" lengthAdjust="spacingAndGlyphs">50</text><text x="31.1" y="83.34" text-anchor="end" textLength="13.5" lengthAdjust="spacingAndGlyphs">60</text><text x="31.1" y="59.16" text-anchor="end" textLength="13.5" lengthAdjust="spacingAndGlyphs">70</text><text x="31.1" y="34.98" text-anchor="end" textLength="13.5" lengthAdjust="spacingAndGlyphs">80</text><text x="31.1" y="10.80" text-anchor="end" textLength="13.5" lengthAdjust="spacingAndGlyphs">90</text><text x="31.1" y="264.72" text-anchor="end" textLength="13.5" lengthAdjust="spacingAndGlyphs">21</text><text x="31.1" y="244.65" text-anchor="end" textLength="13.5" lengthAdjust="spacingAndGlyphs">22</text><text x="31.1" y="224.58" text-anchor="end" textLength="13.5" lengthAdjust="spacingAndGlyphs">23</text><text x="31.1" y="204.51" text-anchor="end" textLength="13.5" lengthAdjust="spacingAndGlyphs">24</text><text x="31.1" y="184.44" text-anchor="end" textLength="13.5" lengthAdjust="spacingAndGlyphs">25</text><text x="31.1" y="164.37" text-anchor="end" textLength="13.5" lengthAdjust="spacingAndGlyphs">26</text><text x="31.1" y="144.30" text-anchor="end" textLength="13.5" lengthAdjust="spacingAndGlyphs">27</text><text x="35.00" y="276.3" text-anchor="middle" textLength="7" lengthAdjust="spacingAndGlyphs">0</text><text x="98.89" y="276.3" text-anchor="middle" textLength="7" lengthAdjust="spacingAndGlyphs">2</text><text x="162.78" y="276.3" text-anchor="middle" textLength="7" lengthAdjust="spacingAndGlyphs">4</text><text x="226.66" y="276.3" text-anchor="middle" textLength="7" lengthAdjust="spacingAndGlyphs">6</text><text x="290.55" y="276.3" text-anchor="middle" textLength="7" lengthAdjust="spacingAndGlyphs">8</text><text x="354.44" y="276.3" text-anchor="middle" textLength="13.1" lengthAdjust="spacingAndGlyphs">10</text><text x="418.33" y="276.3" text-anchor="middle" textLength="13.1" lengthAdjust="spacingAndGlyphs">12</text><text x="482.22" y="276.3" text-anchor="middle" textLength="13.1" lengthAdjust="spacingAndGlyphs">14</text><text x="546.10" y="276.3" text-anchor="middle" textLength="13.1" lengthAdjust="spacingAndGlyphs">16</text><text x="609.99" y="276.3" text-anchor="middle" textLength="13.1" lengthAdjust="spacingAndGlyphs">18</text><text x="673.88" y="276.3" text-anchor="middle" textLength="13.1" lengthAdjust="spacingAndGlyphs">20</text></g><text style='font-family:"Liberation Sans",sans-serif' font-size="13.4" fill="#262626" x="357.5" y="291" text-anchor="middle" textLength="68.5" lengthAdjust="spacingAndGlyphs">Time (days)</text><text style='font-family:"Liberation Sans",sans-serif' font-size="13.4" fill="#262626" transform="translate(13.2 67.95) rotate(-90)" x="0" y="0" text-anchor="middle" textLength="53.6" lengthAdjust="spacingAndGlyphs">Rate (Hz)</text><text style='font-family:"Liberation Sans",sans-serif' font-size="13.4" fill="#262626" transform="translate(13.2 201.21) rotate(-90)" x="0" y="0" text-anchor="middle" textLength="104" lengthAdjust="spacingAndGlyphs">Temperature (°C)</text><text style='font-family:"Liberation Sans",sans-serif' font-weight="bold" font-size="9.8" fill="#6a6a6a" transform="translate(410.8 68.3) rotate(-90)" text-anchor="middle" textLength="32.2" lengthAdjust="spacingAndGlyphs">AC off</text><text style='font-family:"Liberation Sans",sans-serif' font-weight="bold" font-size="9.8" fill="#6a6a6a" transform="translate(410.8 201.3) rotate(-90)" text-anchor="middle" textLength="32.2" lengthAdjust="spacingAndGlyphs">AC off</text><rect x="602.5" y="13.5" width="70.7" height="24.3" fill="#fff" stroke="#4a4a4a" stroke-width="0.85"/><circle cx="608.3" cy="19.9" r="1.9" fill="none" stroke="#000" stroke-width="0.9"/><rect x="607.2" y="29.9" width="3.2" height="3.4" fill="none" stroke="#0000ff" stroke-width="0.8"/><text style='font-family:"Liberation Sans",sans-serif' font-size="10.2" fill="#262626" x="614.0" y="23.9" textLength="57" lengthAdjust="spacingAndGlyphs">Trigger rate</text><text style='font-family:"Liberation Sans",sans-serif' font-size="10.2" fill="#262626" x="614.0" y="35.0" textLength="49" lengthAdjust="spacingAndGlyphs">Track rate</text><rect x="554.2" y="146.8" width="119.2" height="12.9" fill="#fff" stroke="#4a4a4a" stroke-width="0.85"/><path d="M560.1 150.6L563.0 154.6L557.2 154.6Z" fill="none" stroke="#ff0000" stroke-width="0.85" stroke-linejoin="round"/><text style='font-family:"Liberation Sans",sans-serif' font-size="10.8" fill="#262626" x="566.6" y="157" textLength="104.5" lengthAdjust="spacingAndGlyphs">Detector temperature</text></svg></body></html>
